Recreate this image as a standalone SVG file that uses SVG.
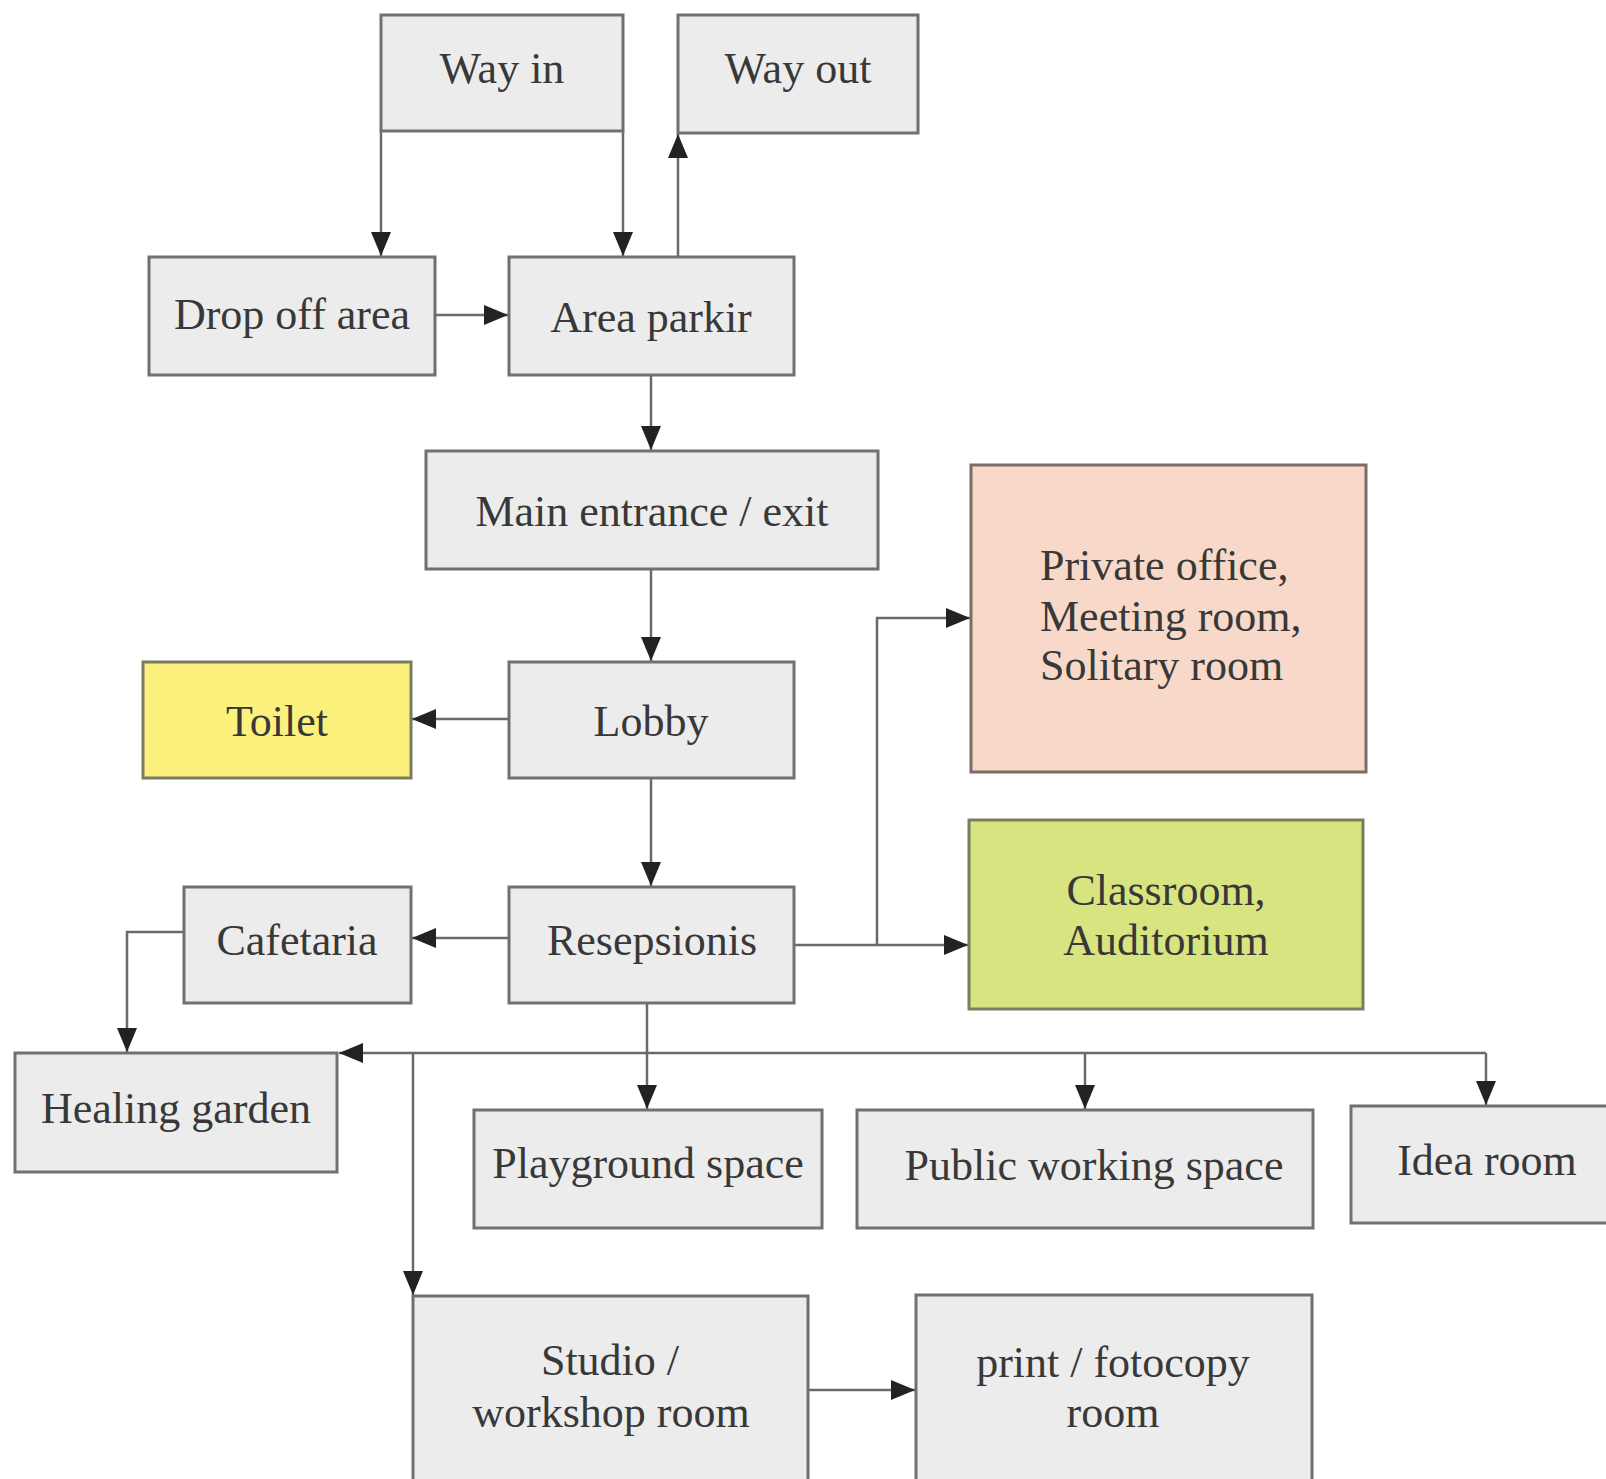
<svg xmlns="http://www.w3.org/2000/svg" width="1606" height="1479" viewBox="0 0 1606 1479">
<defs>
<style>
.box{fill:#ececec;stroke:#707070;stroke-width:3}
.t{font-family:"Liberation Serif","Times New Roman",serif;font-size:44px;fill:#383838;text-anchor:middle}
.tl{font-family:"Liberation Serif","Times New Roman",serif;font-size:44px;fill:#383838;text-anchor:start}
.c{fill:none;stroke:#6a6a6a;stroke-width:2.5}
</style>
<marker id="ah" viewBox="0 0 24 20" refX="24" refY="10" markerWidth="24" markerHeight="20" markerUnits="userSpaceOnUse" orient="auto">
<path d="M0,0 L24,10 L0,20 z" fill="#222"/>
</marker>
</defs>
<rect width="1606" height="1479" fill="#fff"/>

<g id="connectors">
<path class="c" d="M381,131 V256" marker-end="url(#ah)"/>
<path class="c" d="M623,131 V256" marker-end="url(#ah)"/>
<path class="c" d="M678,257 V134" marker-end="url(#ah)"/>
<path class="c" d="M435,315 H508" marker-end="url(#ah)"/>
<path class="c" d="M651,375 V450" marker-end="url(#ah)"/>
<path class="c" d="M651,569 V661" marker-end="url(#ah)"/>
<path class="c" d="M509,719 H412" marker-end="url(#ah)"/>
<path class="c" d="M651,778 V886" marker-end="url(#ah)"/>
<path class="c" d="M509,938 H412" marker-end="url(#ah)"/>
<path class="c" d="M184,932 H127 V1052" marker-end="url(#ah)"/>
<path class="c" d="M794,945 H968" marker-end="url(#ah)"/>
<path class="c" d="M877,945 V618 H970" marker-end="url(#ah)"/>
<path class="c" d="M647,1003 V1109" marker-end="url(#ah)"/>
<path class="c" d="M1486,1053 H339" marker-end="url(#ah)"/>
<path class="c" d="M1486,1053 V1105" marker-end="url(#ah)"/>
<path class="c" d="M1085,1053 V1109" marker-end="url(#ah)"/>
<path class="c" d="M413,1053 V1295" marker-end="url(#ah)"/>
<path class="c" d="M808,1390 H915" marker-end="url(#ah)"/>
</g>

<g id="way-in"><rect class="box" x="381" y="15" width="242" height="116"/><text class="t" x="502" y="83">Way in</text></g>
<g id="way-out"><rect class="box" x="678" y="15" width="240" height="118"/><text class="t" x="798" y="83">Way out</text></g>
<g id="drop-off"><rect class="box" x="149" y="257" width="286" height="118"/><text class="t" x="292" y="329">Drop off area</text></g>
<g id="area-parkir"><rect class="box" x="509" y="257" width="285" height="118"/><text class="t" x="651" y="332">Area parkir</text></g>
<g id="main-entrance"><rect class="box" x="426" y="451" width="452" height="118"/><text class="t" x="652" y="526">Main entrance / exit</text></g>
<g id="toilet"><rect x="143" y="662" width="268" height="116" fill="#fdf17e" stroke="#7a7a60" stroke-width="3"/><text class="t" x="277" y="736">Toilet</text></g>
<g id="lobby"><rect class="box" x="509" y="662" width="285" height="116"/><text class="t" x="651" y="736">Lobby</text></g>
<g id="private-office"><rect x="971" y="465" width="395" height="307" fill="#f7d8c9" stroke="#7a6e68" stroke-width="3"/><text class="tl" x="1040" y="580">Private office,</text><text class="tl" x="1040" y="631">Meeting room,</text><text class="tl" x="1040" y="680">Solitary room</text></g>
<g id="cafetaria"><rect class="box" x="184" y="887" width="227" height="116"/><text class="t" x="297" y="955">Cafetaria</text></g>
<g id="resepsionis"><rect class="box" x="509" y="887" width="285" height="116"/><text class="t" x="652" y="955">Resepsionis</text></g>
<g id="classroom"><rect x="969" y="820" width="394" height="189" fill="#d8e480" stroke="#7a7e60" stroke-width="3"/><text class="t" x="1166" y="905">Classroom,</text><text class="t" x="1166" y="955">Auditorium</text></g>
<g id="healing-garden"><rect class="box" x="15" y="1053" width="322" height="119"/><text class="t" x="176" y="1123">Healing garden</text></g>
<g id="playground"><rect class="box" x="474" y="1110" width="348" height="118"/><text class="t" x="648" y="1178">Playground space</text></g>
<g id="public-working"><rect class="box" x="857" y="1110" width="456" height="118"/><text class="t" x="1094" y="1180">Public working space</text></g>
<g id="idea-room"><rect class="box" x="1351" y="1106" width="265" height="117"/><text class="t" x="1487" y="1175">Idea room</text></g>
<g id="studio"><rect class="box" x="413" y="1296" width="395" height="200"/><text class="t" x="610" y="1375">Studio /</text><text class="t" x="611" y="1427">workshop room</text></g>
<g id="print"><rect class="box" x="916" y="1295" width="396" height="200"/><text class="t" x="1113" y="1377">print / fotocopy</text><text class="t" x="1113" y="1427">room</text></g>
</svg>
